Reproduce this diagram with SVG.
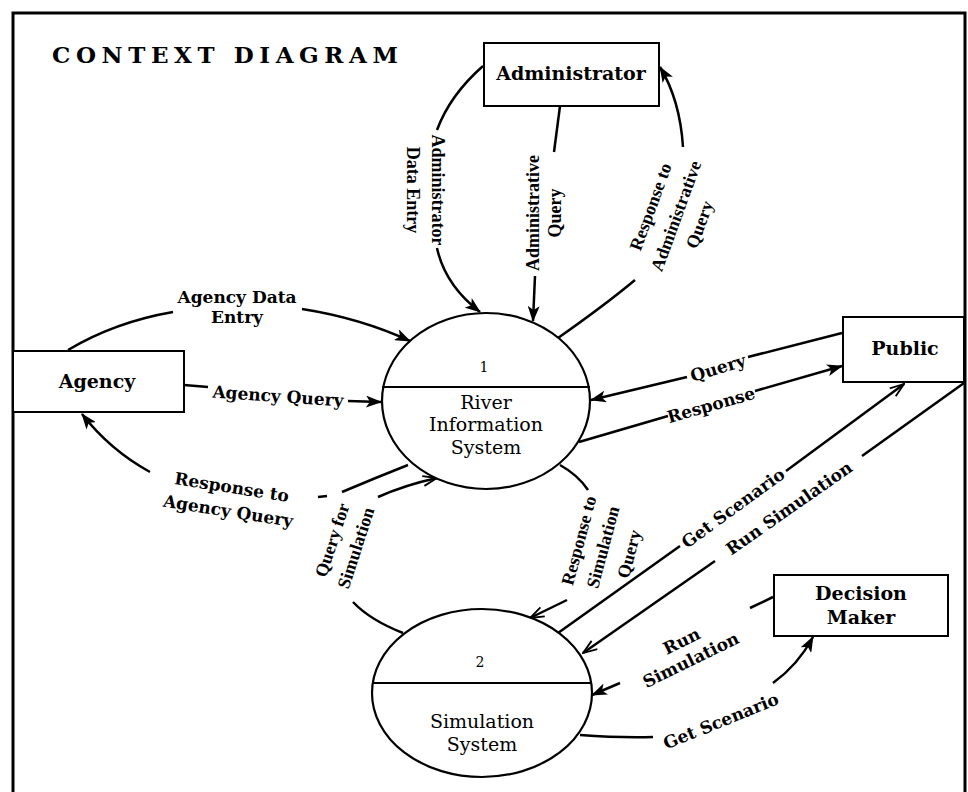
<svg xmlns="http://www.w3.org/2000/svg" width="968" height="792" viewBox="0 0 968 792">
<defs>
<marker id="ah" markerUnits="userSpaceOnUse" viewBox="0 0 16 12" refX="15" refY="6" markerWidth="16" markerHeight="12" orient="auto">
<path d="M0,0 L16,6 L0,12 L4,6 z" fill="#000"/>
</marker>
<marker id="av" markerUnits="userSpaceOnUse" viewBox="0 0 16 12" refX="15" refY="6" markerWidth="16" markerHeight="12" orient="auto">
<path d="M1,1 L15,6 L1,11" fill="none" stroke="#000" stroke-width="1.8"/>
</marker>
<style>
.box{fill:#fff;stroke:#000;stroke-width:2}
.proc{fill:#fff;stroke:#000;stroke-width:2.2}
.div{stroke:#000;stroke-width:2}
.c{fill:none;stroke:#000;stroke-width:2.5}
.nt{font-family:"DejaVu Serif","Liberation Serif",serif;font-weight:bold;font-size:19px;text-anchor:middle;fill:#000}
.pt{font-family:"DejaVu Serif","Liberation Serif",serif;font-size:19px;text-anchor:middle;fill:#000}
.num{font-family:"DejaVu Serif","Liberation Serif",serif;font-size:14px;text-anchor:middle;fill:#000}
.lb{font-family:"DejaVu Serif","Liberation Serif",serif;font-weight:bold;font-size:17px;text-anchor:middle;fill:#000}
.lc{font-family:"Liberation Serif","Times New Roman",serif;font-weight:bold;font-size:18px;text-anchor:middle;fill:#000}
</style>
</defs>
<rect x="0" y="0" width="968" height="792" fill="#fff"/>
<rect x="13" y="13" width="952" height="800" fill="none" stroke="#000" stroke-width="3"/>
<text x="52" y="63" font-family="'DejaVu Serif','Liberation Serif',serif" font-weight="bold" font-size="23" textLength="346" lengthAdjust="spacing">CONTEXT DIAGRAM</text>

<g id="connectors">
<!-- Administrator Data Entry -->
<path class="c" d="M483,66 Q450,95 437,130"/>
<path class="c" d="M437,248 Q445,285 480,312" marker-end="url(#ah)"/>
<g transform="translate(425,190) rotate(90)"><text class="lc" x="0" y="-6.5">Administrator</text><text class="lc" x="0" y="18.5">Data Entry</text></g>
<!-- Administrative Query -->
<path class="c" d="M560,106 L554,152"/>
<path class="c" d="M535,276 L533,321" marker-end="url(#ah)"/>
<g transform="translate(544,213) rotate(-90)"><text class="lc" x="0" y="-5">Administrative</text><text class="lc" x="0" y="17">Query</text></g>
<!-- Response to Administrative Query -->
<path class="c" d="M558,338 Q605,305 635,280"/>
<path class="c" d="M683,147 Q680,100 660,67" marker-end="url(#ah)"/>
<g transform="translate(676,216) rotate(-70)"><text class="lc" x="0" y="-21">Response to</text><text class="lc" x="0" y="6">Administrative</text><text class="lc" x="0" y="31">Query</text></g>
<!-- Agency Data Entry -->
<path class="c" d="M68,350 Q115,322 173,312"/>
<path class="c" d="M302,309 Q360,318 410,341" marker-end="url(#ah)"/>
<text class="lb" x="237" y="303">Agency Data</text>
<text class="lb" x="237" y="323">Entry</text>
<!-- Agency Query -->
<path class="c" d="M184,385 L208,387"/>
<path class="c" d="M348,401 L381,402" marker-end="url(#ah)"/>
<g transform="translate(278,396) rotate(4)"><text class="lb" x="0" y="6">Agency Query</text></g>
<!-- Response to Agency Query -->
<path class="c" d="M408,465 Q375,478 342,492"/>
<path class="c" d="M318,497 L327,496"/>
<path class="c" d="M150,472 Q110,450 82,414" marker-end="url(#ah)"/>
<g transform="translate(230,499) rotate(9)"><text class="lb" x="0" y="-6">Response to</text><text class="lb" x="0" y="18">Agency Query</text></g>
<!-- Query for Simulation -->
<path class="c" d="M403,633 Q370,620 353,602"/>
<path class="c" d="M378,497 Q405,485 437,478" marker-end="url(#av)"/>
<g transform="translate(344,544) rotate(-72)"><text class="lc" x="0" y="-6.5">Query for</text><text class="lc" x="0" y="18.5">Simulation</text></g>
<!-- Response to Simulation Query -->
<path class="c" d="M560,465 Q578,475 588,490"/>
<path class="c" d="M567,600 L530,618" marker-end="url(#av)"/>
<g transform="translate(603,547) rotate(-75)"><text class="lc" x="0" y="-19">Response to</text><text class="lc" x="0" y="6">Simulation</text><text class="lc" x="0" y="33">Query</text></g>
<!-- Query (Public) -->
<path class="c" d="M842,333 L748,357"/>
<path class="c" d="M687,377 L591,400" marker-end="url(#ah)"/>
<g transform="translate(718,368) rotate(-17)"><text class="lb" x="0" y="6">Query</text></g>
<!-- Response (Public) -->
<path class="c" d="M579,442 L668,416"/>
<path class="c" d="M755,391 L842,366" marker-end="url(#ah)"/>
<g transform="translate(711,405) rotate(-16)"><text class="lb" x="0" y="6">Response</text></g>
<!-- Get Scenario (to Public) -->
<path class="c" d="M558,633 L680,546"/>
<path class="c" d="M786,471 L904,384" marker-end="url(#av)"/>
<g transform="translate(733,508) rotate(-36)"><text class="lb" x="0" y="6" font-size="16">Get Scenario</text></g>
<!-- Run Simulation (from Public) -->
<path class="c" d="M964,383 L862,456"/>
<path class="c" d="M715,561 L583,653" marker-end="url(#av)"/>
<g transform="translate(789,508) rotate(-35)"><text class="lb" x="0" y="6" font-size="18">Run Simulation</text></g>
<!-- Run Simulation (Decision Maker) -->
<path class="c" d="M773,597 L750,608"/>
<path class="c" d="M620,683 L592,695" marker-end="url(#ah)"/>
<g transform="translate(686,650) rotate(-26)"><text class="lb" x="0" y="-4">Run</text><text class="lb" x="0" y="17">Simulation</text></g>
<!-- Get Scenario (Decision Maker) -->
<path class="c" d="M580,735 Q620,738 653,737"/>
<path class="c" d="M773,683 Q798,665 813,637" marker-end="url(#ah)"/>
<g transform="translate(721,721) rotate(-22)"><text class="lb" x="0" y="6">Get Scenario</text></g>
</g>

<g id="administrator">
<rect class="box" x="484" y="43" width="175" height="63"/>
<text class="nt" x="571" y="80">Administrator</text>
</g>
<g id="agency">
<rect class="box" x="13" y="351" width="171" height="61"/>
<text class="nt" x="97" y="388">Agency</text>
</g>
<g id="public">
<rect class="box" x="843" y="317" width="121" height="65"/>
<text class="nt" x="905" y="355">Public</text>
</g>
<g id="decision-maker">
<rect class="box" x="774" y="575" width="174" height="61"/>
<text class="nt" x="861" y="600">Decision</text>
<text class="nt" x="861" y="624">Maker</text>
</g>
<g id="river-information-system">
<ellipse class="proc" cx="486" cy="401" rx="104" ry="88"/>
<line class="div" x1="382" y1="387" x2="590" y2="387"/>
<text class="num" x="484" y="372">1</text>
<text class="pt" x="486" y="409">River</text>
<text class="pt" x="486" y="431">Information</text>
<text class="pt" x="486" y="454">System</text>
</g>
<g id="simulation-system">
<ellipse class="proc" cx="482" cy="693" rx="110" ry="84"/>
<line class="div" x1="373" y1="683" x2="591" y2="683"/>
<text class="num" x="480" y="667">2</text>
<text class="pt" x="482" y="728" font-size="17">Simulation</text>
<text class="pt" x="482" y="751" font-size="17">System</text>
</g>
</svg>
